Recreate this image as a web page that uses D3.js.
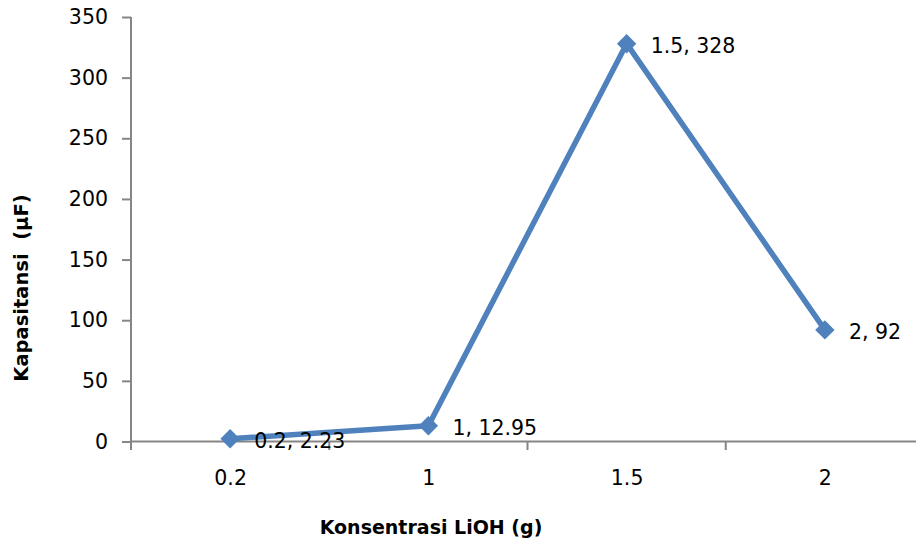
<!DOCTYPE html>
<html>
<head>
<meta charset="utf-8">
<script src="https://cdn.jsdelivr.net/npm/d3@7"></script>
<style>
  html, body { margin: 0; padding: 0; background: #fff; }
  svg { display: block; }
  .tick text { font-family: "DejaVu Sans", Verdana, sans-serif; font-size: 20.5px; fill: #000; }
  .axis path, .axis line { stroke: #868686; stroke-width: 2px; }
</style>
</head>
<body>
<svg id="chart" width="916" height="542"></svg>
<script>
// LiOH concentration (g) and measured capacitance (µF)
const categories = ["0.2", "1", "1.5", "2"];
const capacitance = [2.23, 12.95, 328, 92];
const yTicks = [0, 50, 100, 150, 200, 250, 300, 350];

const svg = d3.select("#chart");
const plotLeft = 131, plotRight = 924, plotTop = 17, plotBottom = 441.5;
const font = '"DejaVu Sans", Verdana, sans-serif';
const blue = "#4F81BD";

const x = d3.scaleBand().domain(categories).range([plotLeft, plotRight]).paddingInner(0).paddingOuter(0);
const y = d3.scaleLinear().domain([0, 350]).range([plotBottom, plotTop]);
const cx = c => x(c) + x.bandwidth() / 2;

// Y axis
const yAxis = svg.append("g")
  .attr("class", "axis")
  .attr("transform", `translate(${plotLeft},0)`)
  .call(d3.axisLeft(y).tickValues(yTicks).tickSize(9).tickPadding(14).tickSizeOuter(0));
yAxis.select(".domain").attr("d", `M0,${plotTop}V${plotBottom + 8.5}`);

// X axis: labels centred in each category band, tick marks on band boundaries
const xAxis = svg.append("g")
  .attr("class", "axis")
  .attr("transform", `translate(0,${plotBottom})`)
  .call(d3.axisBottom(d3.scalePoint().domain(categories).range([cx(categories[0]), cx(categories[categories.length - 1])]))
    .tickSize(0).tickPadding(29));
xAxis.select(".domain").attr("d", `M${plotLeft},0H${plotRight}`);
xAxis.selectAll(".tick text").attr("dy", "0.71em");
xAxis.selectAll("line.boundary")
  .data(categories.slice(1).map(c => x(c)).concat([plotRight]))
  .join("line")
  .attr("class", "boundary")
  .attr("x1", d => d).attr("x2", d => d)
  .attr("y1", 0).attr("y2", 8.5);

// Axis titles
svg.append("text")
  .attr("x", 431).attr("y", 527)
  .attr("text-anchor", "middle").attr("dominant-baseline", "central")
  .style("font-family", font).style("font-weight", "bold").style("font-size", "19px")
  .text("Konsentrasi LiOH (g)");

svg.append("text")
  .attr("transform", "translate(21,288) rotate(-90)")
  .attr("text-anchor", "middle").attr("dominant-baseline", "central")
  .style("font-family", font).style("font-weight", "bold").style("font-size", "19.5px")
  .style("white-space", "pre")
  .text("Kapasitansi  (µF)");

// Series line
const points = categories.map((c, i) => ({ c, v: capacitance[i] }));
svg.append("path")
  .datum(points)
  .attr("fill", "none")
  .attr("stroke", blue)
  .attr("stroke-width", 5.5)
  .attr("stroke-linejoin", "round")
  .attr("d", d3.line().x(d => cx(d.c)).y(d => y(d.v)));

// Diamond markers
svg.selectAll("path.marker")
  .data(points)
  .join("path")
  .attr("class", "marker")
  .attr("fill", blue)
  .attr("d", d3.symbol().type(d3.symbolDiamond2).size(240))
  .attr("transform", d => `translate(${cx(d.c)},${y(d.v)})`);

// Data labels
svg.selectAll("text.value")
  .data(points)
  .join("text")
  .attr("class", "value")
  .attr("x", d => cx(d.c) + 24)
  .attr("y", d => y(d.v) + 2)
  .attr("dominant-baseline", "central")
  .style("font-family", font).style("font-size", "20.5px").style("fill", "#000")
  .text(d => `${d.c}, ${d.v}`);
</script>
</body>
</html>
